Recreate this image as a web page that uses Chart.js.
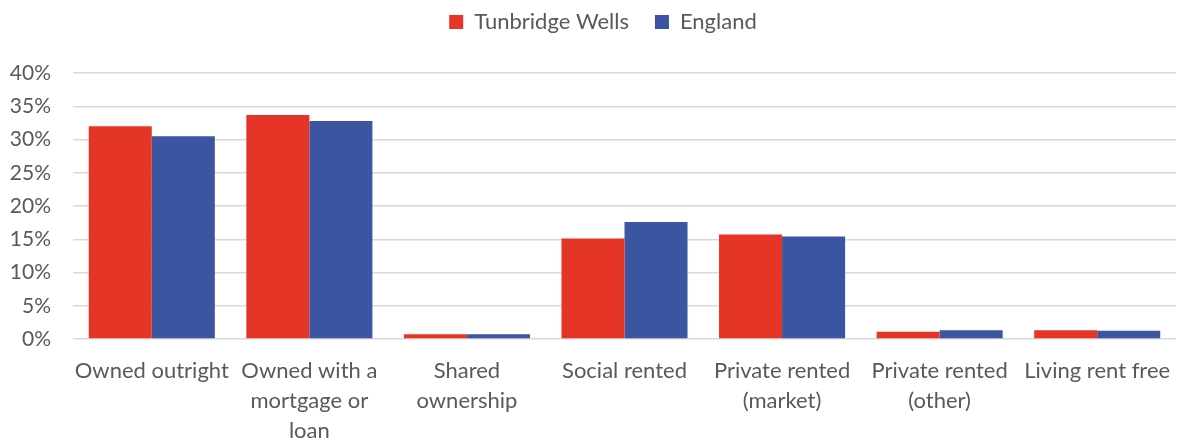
<!DOCTYPE html>
<html>
<head>
<meta charset="utf-8">
<script src="https://cdn.jsdelivr.net/npm/chart.js@4/dist/chart.umd.min.js"></script>
<style>
html,body{margin:0;padding:0;background:#fff;}
#wrap{width:1178px;height:442px;position:relative;}
</style>
</head>
<body>
<div id="wrap"><canvas id="c" width="1178" height="442"></canvas></div>
<script>
const categories = [
  ["Owned outright"],
  ["Owned with a", "mortgage or", "loan"],
  ["Shared", "ownership"],
  ["Social rented"],
  ["Private rented", "(market)"],
  ["Private rented", "(other)"],
  ["Living rent free"]
];
const seriesNames = ["Tunbridge Wells", "England"];
const tunbridgeWells = [32.0, 33.7, 0.7, 15.1, 15.7, 1.1, 1.3];
const england = [30.5, 32.8, 0.7, 17.6, 15.4, 1.3, 1.25];
const yTicks = [0, 5, 10, 15, 20, 25, 30, 35, 40];

const FONT = "Lato, 'Open Sans', sans-serif";
const TXT = "#595959";

const legendTweak = {
  id: 'legendTweak',
  beforeInit(chart) {
    const orig = chart.legend.fit;
    chart.legend.fit = function () {
      orig.bind(chart.legend)();
      this.height = 88;
    };
  },
  afterLayout(chart) {
    chart.legend.left += 15;
    chart.legend.right += 15;
  }
};

new Chart(document.getElementById('c'), {
  type: 'bar',
  data: {
    labels: categories,
    datasets: [
      { label: seriesNames[0], data: tunbridgeWells, backgroundColor: '#E43526', categoryPercentage: 0.8, barPercentage: 1.0 },
      { label: seriesNames[1], data: england, backgroundColor: '#3B55A2', categoryPercentage: 0.8, barPercentage: 1.0 }
    ]
  },
  options: {
    responsive: false,
    animation: false,
    layout: { padding: { left: 0, right: 2, top: -15, bottom: 0 } },
    plugins: {
      legend: {
        position: 'top',
        labels: { boxWidth: 14, boxHeight: 14, padding: 26, color: TXT, font: { family: FONT, size: 22 } }
      },
      tooltip: { enabled: false }
    },
    scales: {
      x: {
        grid: { display: false, drawTicks: false },
        border: { display: false },
        ticks: { color: TXT, font: { family: FONT, size: 22, lineHeight: 1.36 }, padding: 17, maxRotation: 0, autoSkip: false },
        afterFit(scale) { scale.height = 103; scale.paddingLeft = 0; scale.paddingRight = 0; }
      },
      y: {
        min: 0, max: 40,
        afterBuildTicks(scale) { scale.ticks = yTicks.map(v => ({ value: v })); },
        grid: { color: '#D9D9D9', lineWidth: 1.5, drawTicks: false },
        border: { display: false },
        ticks: { color: TXT, font: { family: FONT, size: 21 }, padding: 22, callback: v => v + '%' },
        afterFit(scale) { scale.width = 73; }
      }
    }
  },
  plugins: [legendTweak]
});
</script>
</body>
</html>
